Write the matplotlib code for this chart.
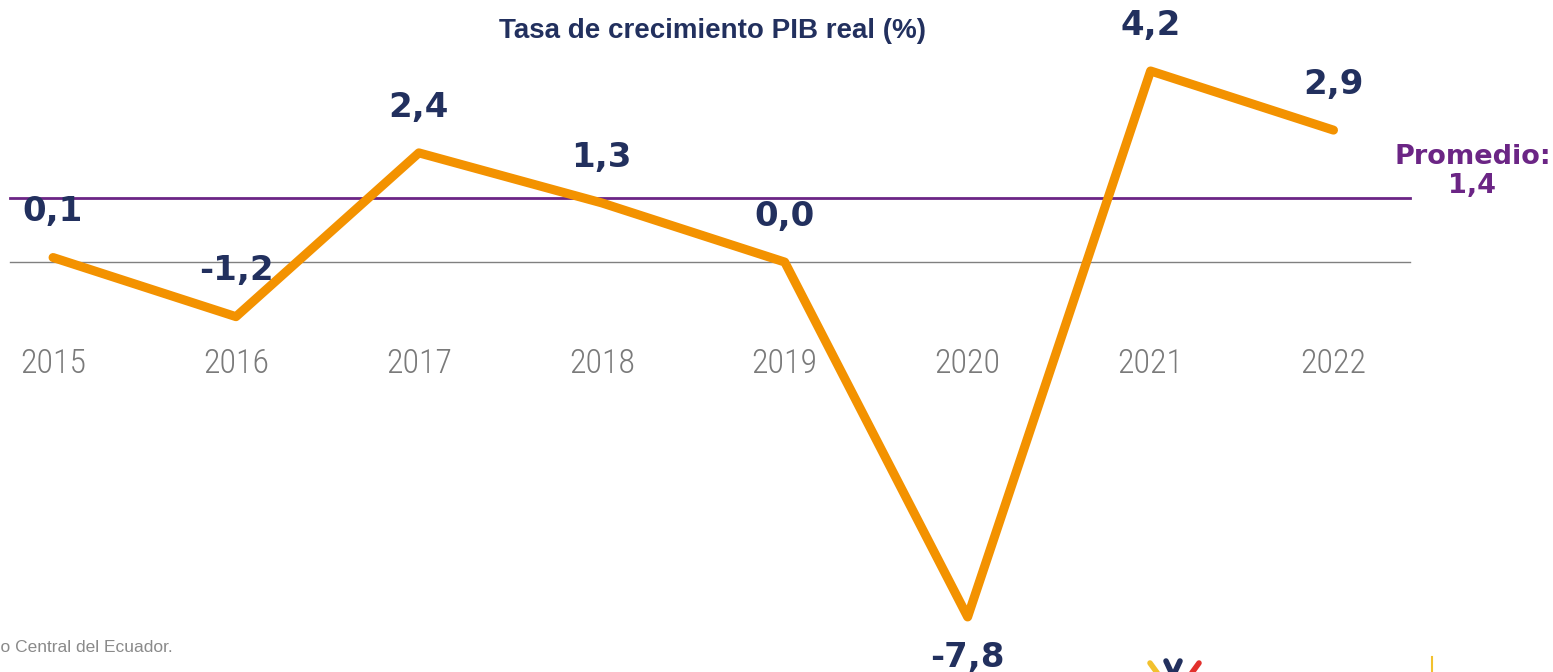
import numpy as np
import matplotlib.pyplot as plt
from matplotlib import font_manager
from matplotlib.lines import Line2D

# Data
years = [2015, 2016, 2017, 2018, 2019, 2020, 2021, 2022]
growth = [0.1, -1.2, 2.4, 1.3, 0.0, -7.8, 4.2, 2.9]
labels = ['0,1', '-1,2', '2,4', '1,3', '0,0', '-7,8', '4,2', '2,9']
promedio = 1.4
promedio_label = 'Promedio:\n1,4'
title = 'Tasa de crecimiento PIB real (%)'
source = 'Fuente: Banco Central del Ecuador.'

navy = '#22305e'
orange = '#f39200'
purple = '#6b2585'
grey = '#7a7a7a'

# pick a narrow face for the year labels if one is installed
installed = {(f.name, f.stretch) for f in font_manager.fontManager.ttflist}
names = {n for n, s in installed}
if 'Roboto Condensed' in names:
    year_font = dict(family='Roboto Condensed', weight='light', fontsize=24.5)
elif 'Liberation Sans Narrow' in names:
    year_font = dict(family='Liberation Sans Narrow', fontsize=24)
elif ('DejaVu Sans', 'condensed') in installed:
    year_font = dict(family='DejaVu Sans', stretch='condensed', fontsize=21)
else:
    year_font = dict(family='Roboto', weight='light', fontsize=21)

W, H = 1553, 672
fig = plt.figure(figsize=(W / 100, H / 100), dpi=100)
ax = fig.add_axes([0, 0, 1, 1])
ax.set_xlim(2014.71, 2023.2)
ax.set_ylim(-9.01, 5.76)
ax.axis('off')

# reference lines
ax.axhline(0, xmin=0.0064, xmax=0.908, color='#808080', lw=1.0, zorder=1)
ax.axhline(promedio, xmin=0.0064, xmax=0.908, color=purple, lw=2.0, zorder=1)

# main series (2018 sits on the straight 2017-2019 segment in the original)
ax.plot(years, growth, color=orange, lw=6.5, solid_capstyle='round',
        solid_joinstyle='round', zorder=3)

# value labels
for x, v, lab in zip(years, growth, labels):
    dy = -29 if v == min(growth) else 33
    ax.annotate(lab, (x, v), xytext=(0, dy), textcoords='offset points',
                ha='center', va='center', fontsize=24.5, fontweight='bold',
                family='DejaVu Sans', color=navy, zorder=4)

# year labels
for x in years:
    ax.text(x, -2.25, str(x), ha='center', va='center', color=grey,
            zorder=2, **year_font)

ax.text(0.9985, 0.745, promedio_label, transform=ax.transAxes, ha='right',
        va='center', multialignment='center', fontsize=19.5, fontweight='bold',
        color=purple, family='DejaVu Sans', linespacing=1.12)

fig.text(0.4585, 0.954, title, ha='center', va='center', fontsize=20,
         fontweight='bold', color=navy, family='Liberation Sans')

fig.text(0.111, 0.037, source, ha='right', va='center', fontsize=12.5,
         color='#8a8a8a', family='Liberation Sans')

# logo fragments at the bottom edge
for (x0, y0, x1, y1, c) in [(1150, 663, 1158, 674, '#f2c12e'),
                            (1166, 661, 1172, 674, navy),
                            (1180, 661, 1174, 674, navy),
                            (1199, 663, 1191, 674, '#e2312d')]:
    fig.add_artist(Line2D([x0 / W, x1 / W], [1 - y0 / H, 1 - y1 / H],
                          color=c, lw=4, solid_capstyle='round'))
fig.add_artist(Line2D([1432 / W, 1432 / W], [1 - 657 / H, 0], color='#f2c12e',
                      lw=1.5))

fig.savefig('out.png', dpi=100)
